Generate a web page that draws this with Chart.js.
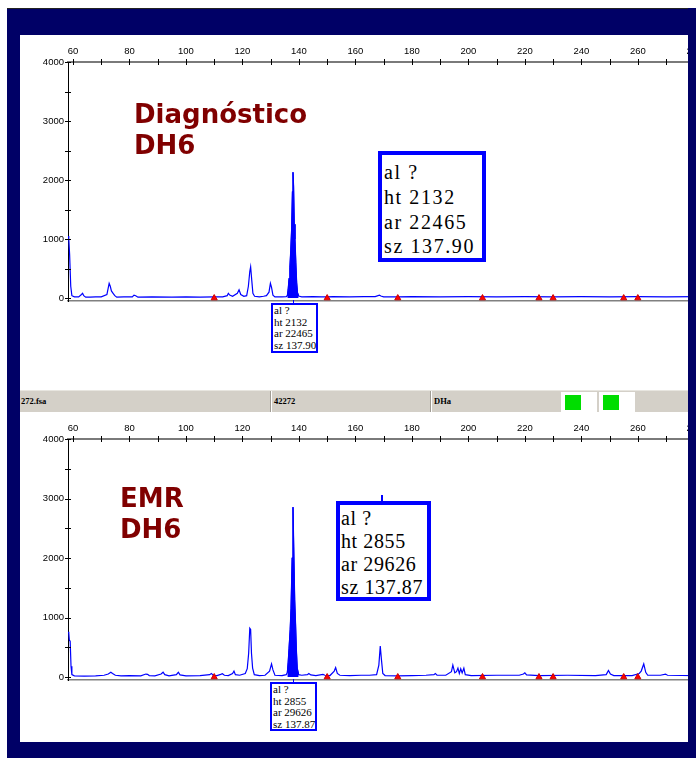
<!DOCTYPE html>
<html>
<head>
<meta charset="utf-8">
<script src="https://cdn.jsdelivr.net/npm/chart.js@4.4.1/dist/chart.umd.min.js"></script>
<style>
html, body { margin: 0; padding: 0; width: 696px; height: 758px; overflow: hidden; background: #fff; }
.abs { position: absolute; }
#frame { left: 7px; top: 8px; width: 689px; height: 750px; background: #000066; border-top: 1px solid #222; box-sizing: border-box; }
#inner { left: 20px; top: 35px; width: 668px; height: 707px; background: #fff; }
#edgeR { left: 688px; top: 8px; width: 8px; height: 750px; background: #000066; z-index: 5; }
canvas { position: absolute; z-index: 1; }
.title { font-family: "DejaVu Sans"; font-weight: bold; font-size: 26px; line-height: 31px; color: #800000; z-index: 3; white-space: nowrap; }
.box { box-sizing: border-box; border: 4px solid #0000ff; background: #fff; font-family: "Liberation Serif"; color: #000; z-index: 3; white-space: nowrap; }
.small { border-width: 2px; font-size: 11px; line-height: 11.5px; padding-left: 1px; }
.link { background: #0000ff; z-index: 3; width: 1px; }
#bar { left: 20px; top: 390px; width: 668px; height: 22px; background: #d4d0c8; z-index: 2; border-top: 1px solid #e8e6e0; box-sizing: border-box; }
.cell { font-family: "Liberation Serif"; font-weight: bold; font-size: 8.5px; line-height: 20px; color: #000; top: 0; }
.sep { top: 0; width: 1px; height: 21px; background: #a09c94; border-right: 1px solid #fff; }
.wbox { top: 1px; width: 36px; height: 20px; background: #fff; }
.green { left: 4px; top: 3px; width: 16px; height: 15px; background: #00dd00; }
</style>
</head>
<body>
<div id="frame" class="abs"></div>
<div id="inner" class="abs"></div>

<canvas id="topChart" width="676" height="355" style="left:20px;top:35px"></canvas>
<canvas id="bottomChart" width="676" height="330" style="left:20px;top:412px"></canvas>

<div id="bar" class="abs">
  <div class="abs cell" style="left:1px">272.fsa</div>
  <div class="abs sep" style="left:250px"></div>
  <div class="abs cell" style="left:254px">42272</div>
  <div class="abs sep" style="left:410px"></div>
  <div class="abs cell" style="left:414px">DHa</div>
  <div class="abs wbox" style="left:541px"><div class="abs green"></div></div>
  <div class="abs wbox" style="left:579px"><div class="abs green"></div></div>
</div>

<div class="abs title" style="left:134px;top:99px">Diagnóstico<br>DH6</div>
<div class="abs title" style="left:120px;top:483px">EMR<br>DH6</div>

<div class="abs box" style="left:378px;top:151px;width:108px;height:111px;font-size:20px;line-height:24.8px;letter-spacing:1.6px;padding:5px 0 0 2px">al ?<br>ht 2132<br>ar 22465<br>sz 137.90</div>
<div class="abs box small" style="left:271px;top:303px;width:47px;height:50px;padding-top:0">al ?<br>ht 2132<br>ar 22465<br>sz 137.90</div>
<div class="abs link" style="left:293px;top:300px;height:3px"></div>

<div class="abs link" style="left:381px;top:495px;height:6px;width:2px"></div>
<div class="abs box" style="left:336px;top:501px;width:95px;height:100px;font-size:20px;line-height:23px;letter-spacing:0.6px;padding:2px 0 0 1px">al ?<br>ht 2855<br>ar 29626<br>sz 137.87</div>
<div class="abs box small" style="left:270px;top:682px;width:47px;height:49px;padding-top:0">al ?<br>ht 2855<br>ar 29626<br>sz 137.87</div>
<div class="abs link" style="left:293px;top:679px;height:3px"></div>

<div id="edgeR" class="abs"></div>

<script>
// fragment sizes (bp) and heights (rfu)
const xMin = 58.23;
const xMax = 280.6;
const yMin = -50;
const yMax = 4000;

// axis ticks (labels only every 20 bp / 1000 rfu)
const xTicks = [60, 70, 80, 90, 100, 110, 120, 130, 140, 150, 160, 170, 180, 190, 200, 210, 220, 230, 240, 250, 260, 270, 280];
const yTicks = [0, 500, 1000, 1500, 2000, 2500, 3000, 3500, 4000];

// size standard markers
const markerSizes = [110, 150, 175, 205, 225, 230, 255, 260];
const markerHeights = [0, 0, 0, 0, 0, 0, 0, 0];

// Diagnóstico DH6
const topSizes = [58.3, 58.5, 58.8, 59.2, 59.6, 60.5, 62, 63, 63.4, 63.8, 64.5, 66, 68, 70, 72, 72.8, 73.2, 73.6, 74.2, 74.8, 75.5,
  78, 81, 81.6, 82.2, 83, 88, 95, 100, 105, 110, 113, 114.6, 115, 115.5, 116.5, 118.2, 118.8, 119.4, 120.5, 121.5,
  122.1, 122.6, 122.9, 123.3, 123.7, 124.3, 126, 127.5, 128.5, 129.4, 129.9, 130.3, 130.8, 131.5, 134, 135.5,
  135.9, 136.2, 136.5, 136.8, 137.1, 137.4, 137.7, 137.9, 138.1, 138.35, 138.6, 138.9, 139.2, 139.5, 139.9,
  141, 145, 148, 150, 152, 158, 163, 167, 168.5, 169, 170, 175, 180, 190, 200, 210, 220, 230, 240, 250, 260, 270, 281];
const topHeights = [1050, 1010, 740, 200, 40, 20, 20, 60, 80, 40, 15, 15, 20, 20, 60, 250, 200, 120, 80, 40, 15,
  20, 20, 50, 40, 15, 20, 15, 20, 15, 20, 20, 40, 80, 50, 30, 80, 140, 60, 30, 40,
  200, 450, 530, 300, 80, 30, 20, 30, 40, 100, 250, 180, 50, 20, 20, 25,
  40, 150, 330, 520, 800, 1150, 1800, 2132, 1900, 1250, 1000, 600, 260, 90, 35,
  20, 25, 20, 20, 25, 20, 25, 25, 50, 35, 20, 20, 25, 20, 25, 20, 25, 20, 25, 20, 25, 20, 25];
const topPeakSizes = [135.9, 136.2, 136.5, 136.8, 137.1, 137.4, 137.7, 137.9, 138.1, 138.35, 138.6, 138.9, 139.2, 139.5, 139.9];
const topPeakHeights = [40, 150, 330, 520, 800, 1150, 1800, 2132, 1900, 1250, 1000, 600, 260, 90, 35];

// EMR DH6
const bottomSizes = [58.3, 58.5, 58.7, 59.0, 59.3, 59.6, 60.5, 64, 68, 71, 72.5, 73.4, 74, 75, 77, 80, 84, 85.8, 86.4, 87, 89,
  91.2, 91.9, 92.5, 94, 96.6, 97.3, 97.9, 100, 105, 108.4, 109, 109.6, 111, 112.3, 112.9, 113.6, 115, 116.5, 117, 117.5,
  119, 121, 121.7, 122.2, 122.6, 122.9, 123.2, 123.6, 124.2, 126, 128, 129.6, 130.3, 130.8, 131.5, 134, 135.5,
  135.9, 136.2, 136.5, 136.9, 137.2, 137.6, 137.9, 138.15, 138.5, 138.8, 139.1, 139.4, 139.9,
  141, 143, 143.5, 144.2, 146, 148.5, 149.2, 151, 152.5, 153, 153.6, 154.5, 158, 162, 165, 167.5, 168.3, 168.8, 169.2,
  169.7, 170.5, 175, 180, 185, 187.8, 188.3, 188.9, 192, 194, 194.5, 195.2, 195.8, 196.3, 196.8, 197.3, 197.8, 198.4,
  198.9, 201, 210, 218, 219.5, 220, 220.6, 225, 235, 245, 248.8, 249.6, 250.3, 251.5, 258, 260.5, 261.2, 262.1, 262.8,
  263.5, 268, 269.8, 270.5, 281];
const bottomHeights = [760, 740, 620, 600, 180, 40, 20, 15, 20, 30, 50, 80, 60, 30, 20, 25, 20, 50, 45, 25, 20,
  50, 80, 40, 20, 40, 80, 35, 20, 25, 40, 60, 30, 25, 45, 55, 30, 25, 60, 100, 40,
  30, 60, 140, 400, 820, 800, 400, 150, 40, 25, 30, 100, 220, 120, 30, 25, 40,
  80, 250, 480, 800, 1150, 2000, 2855, 2200, 1300, 900, 450, 150, 40,
  30, 40, 60, 35, 25, 45, 30, 25, 100, 160, 60, 30, 25, 30, 30, 40, 200, 520, 300,
  60, 25, 20, 25, 30, 40, 60, 30, 30, 90, 200, 70, 90, 150, 60, 140, 70, 150,
  40, 25, 30, 30, 50, 70, 35, 25, 30, 25, 40, 110, 50, 25, 25, 60, 100, 220, 80,
  30, 30, 50, 30, 25];
const bottomPeakSizes = [135.9, 136.2, 136.5, 136.9, 137.2, 137.6, 137.9, 138.15, 138.5, 138.8, 139.1, 139.4, 139.9];
const bottomPeakHeights = [80, 250, 480, 800, 1150, 2000, 2855, 2200, 1300, 900, 450, 150, 40];

const toPoints = (xs, ys) => xs.map((x, i) => ({ x: x, y: ys[i] }));

// tick marks that cross the axis lines
const crossTicks = {
  id: 'crossTicks',
  afterDraw(chart) {
    const ctx = chart.ctx;
    const area = chart.chartArea;
    const xs = chart.scales.x;
    const ys = chart.scales.y;
    ctx.save();
    ctx.strokeStyle = '#000';
    ctx.lineWidth = 1;
    ctx.beginPath();
    xs.ticks.forEach(t => {
      const px = Math.round(xs.getPixelForValue(t.value)) + 0.5;
      ctx.moveTo(px, area.top - 3);
      ctx.lineTo(px, area.top + 3);
    });
    ys.ticks.forEach(t => {
      const py = Math.round(ys.getPixelForValue(t.value)) + 0.5;
      ctx.moveTo(area.left - 3, py);
      ctx.lineTo(area.left + 3, py);
    });
    ctx.stroke();
    ctx.restore();
  }
};

const tickFont = { family: 'Liberation Sans', size: 9.5 };

function makeChart(id, sizes, heights, peakSizes, peakHeights, axisHeight, padBottom) {
  return new Chart(document.getElementById(id), {
    type: 'line',
    data: {
      datasets: [
        {
          data: toPoints(markerSizes, markerHeights),
          showLine: false,
          pointStyle: 'triangle',
          pointRadius: 3.5,
          backgroundColor: '#ff0000',
          borderColor: '#cc0000',
          borderWidth: 1,
          xAxisID: 'x'
        },
        {
          data: toPoints(peakSizes, peakHeights),
          fill: 'origin',
          backgroundColor: '#0000ff',
          borderColor: '#0000ff',
          borderWidth: 1,
          pointRadius: 0,
          xAxisID: 'x'
        },
        {
          data: toPoints(sizes, heights),
          fill: false,
          borderColor: '#0000ff',
          borderWidth: 1.2,
          pointRadius: 0,
          xAxisID: 'x'
        }
      ]
    },
    options: {
      responsive: false,
      animation: false,
      devicePixelRatio: 1,
      layout: { autoPadding: false, padding: { left: 0, right: 0, top: 0, bottom: padBottom } },
      plugins: { legend: { display: false }, tooltip: { enabled: false } },
      scales: {
        x: {
          type: 'linear',
          position: 'top',
          min: xMin,
          max: xMax,
          grid: { display: false, drawTicks: false },
          border: { display: true, color: '#7a7a7a', width: 2 },
          afterBuildTicks: s => { s.ticks = xTicks.map(v => ({ value: v })); },
          ticks: {
            autoSkip: false,
            maxRotation: 0,
            padding: 5,
            color: '#000',
            font: tickFont,
            callback: v => (v % 20 === 0 ? v : '')
          },
          afterFit: s => { s.height = axisHeight; s.paddingLeft = 0; s.paddingRight = 0; }
        },
        x2: {
          type: 'linear',
          position: 'bottom',
          min: xMin,
          max: xMax,
          grid: { display: false, drawTicks: false },
          border: { display: true, color: '#808080', width: 1.5 },
          ticks: { display: false },
          afterFit: s => { s.height = 0; s.paddingLeft = 0; s.paddingRight = 0; }
        },
        y: {
          type: 'linear',
          position: 'left',
          min: yMin,
          max: yMax,
          grid: { display: false, drawTicks: false },
          border: { display: true, color: '#000', width: 1 },
          afterBuildTicks: s => { s.ticks = yTicks.map(v => ({ value: v })); },
          ticks: {
            autoSkip: false,
            padding: 4,
            color: '#000',
            font: tickFont,
            callback: v => (v % 1000 === 0 ? v : '')
          },
          afterFit: s => { s.width = 48; }
        }
      }
    },
    plugins: [crossTicks]
  });
}

makeChart('topChart', topSizes, topHeights, topPeakSizes, topPeakHeights, 27, 89);
makeChart('bottomChart', bottomSizes, bottomHeights, bottomPeakSizes, bottomPeakHeights, 27, 62);
</script>
</body>
</html>
